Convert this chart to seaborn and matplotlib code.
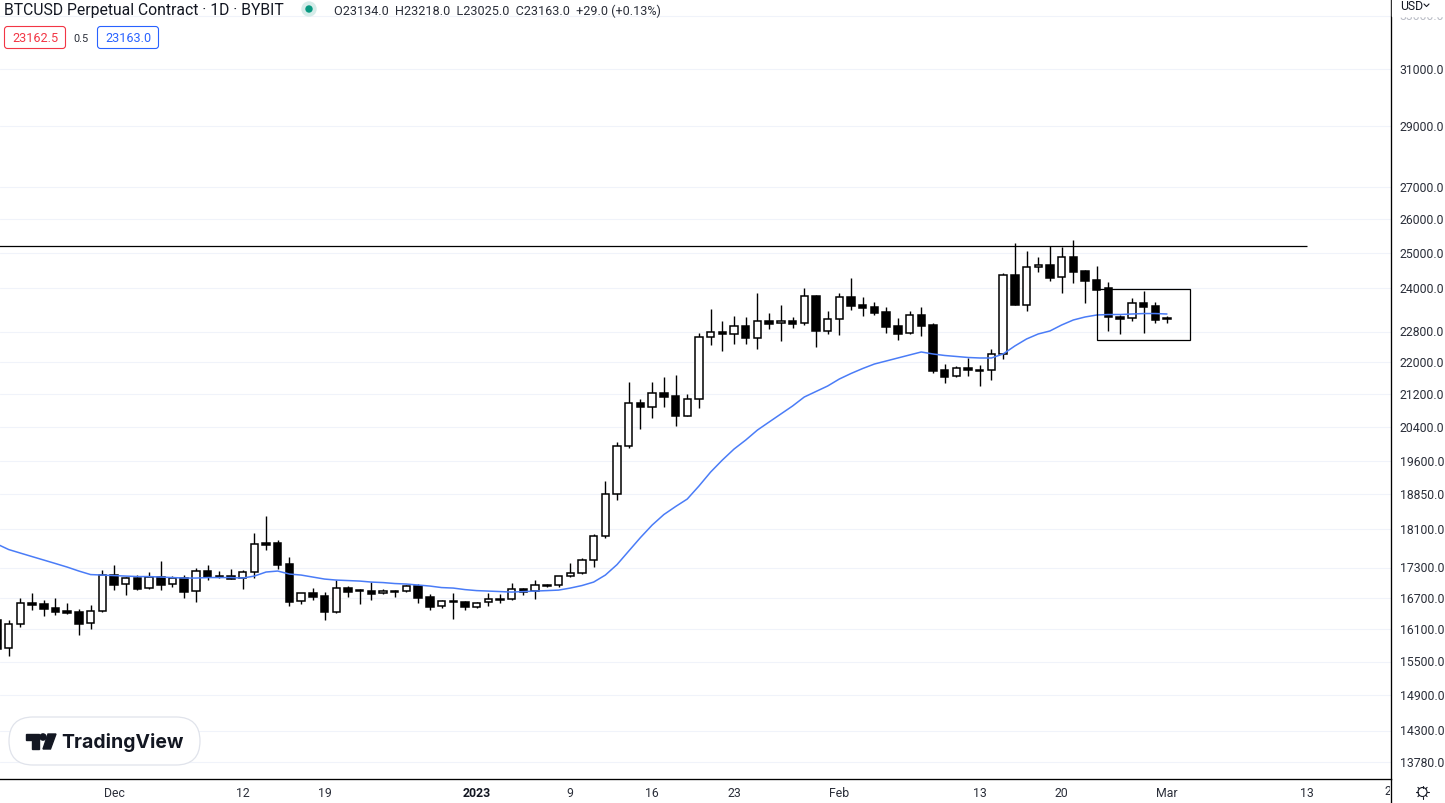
import matplotlib
matplotlib.use("Agg")
import matplotlib.dates as mdates
import matplotlib.pyplot as plt
import numpy as np
import pandas as pd
import seaborn as sns
from matplotlib.patches import Circle, FancyBboxPatch, Polygon, Rectangle
from matplotlib.transforms import Bbox, ScaledTranslation

# daily candles, 21 Nov 2022 to 1 Mar 2023
dates = pd.date_range("2022-11-21", "2023-03-01", freq="D")

opens = [
    16272, 15747, 16196, 16599, 16580, 16502, 16445, 16425, 16215, 16445,
    17152, 16973, 17092, 16893, 17112, 16973, 17092, 16834, 17233, 17132,
    17132, 17092, 17213, 17807, 17807, 17374, 16638, 16795, 16736, 16425,
    16893, 16853, 16834, 16795, 16834, 16834, 16933, 16716, 16541, 16638,
    16618, 16521, 16618, 16667, 16677, 16873, 16834, 16933, 16953, 17132,
    17193, 17456, 17952, 18858, 19946, 20976, 20878, 21223, 21148, 20659,
    21074, 22660, 22793, 22740, 22953, 22634, 23088, 23034, 23088, 23034,
    23773, 22820, 23142, 23745, 23524, 23469, 23331, 22953, 22767, 23250,
    22980, 21801, 21649, 21853, 21801, 21801, 22214, 24364, 23524, 24593,
    24650, 24307, 24883, 24479, 24223, 23997, 23196, 23169, 23579, 23496,
    23134,
]
highs = [
    16310, 16272, 16696, 16795, 16657, 16696, 16599, 16483, 16560, 17253,
    17354, 17112, 17152, 17213, 17435, 17132, 17152, 17293, 17354, 17233,
    17273, 17253, 18015, 18377, 17869, 17517, 16795, 16893, 16814, 17052,
    16933, 16873, 17012, 16873, 16853, 16953, 16973, 16775, 16657, 16795,
    16638, 16618, 16795, 16775, 16993, 16893, 17052, 16973, 17132, 17395,
    17497, 17994, 19146, 20040, 21497, 21074, 21497, 21624, 21674, 21198,
    22767, 23414, 23088, 23223, 23196, 23858, 23304, 23524, 23196, 23997,
    23801, 23359, 23858, 24279, 23745, 23607, 23469, 23169, 23359, 23469,
    23034, 21955, 21904, 22110, 21930, 22344, 24421, 25293, 25058, 24883,
    25205, 25176, 25383, 24507, 24622, 24166, 23250, 23718, 23913, 23607,
    23218,
]
lows = [
    15692, 15601, 16139, 16464, 16348, 16367, 16387, 15989, 16101, 16425,
    16853, 16755, 16853, 16873, 16853, 16913, 16696, 16618, 17052, 17092,
    17072, 16873, 17092, 17661, 17273, 16541, 16580, 16657, 16272, 16406,
    16716, 16580, 16657, 16775, 16716, 16814, 16599, 16464, 16502, 16291,
    16464, 16502, 16541, 16599, 16657, 16755, 16677, 16913, 16913, 17112,
    17172, 17313, 17910, 18725, 19899, 20347, 20611, 20878, 20418, 20659,
    20853, 22449, 22292, 22475, 22475, 22344, 22873, 22554, 22900, 22980,
    22396, 22740, 22713, 23387, 23223, 23250, 22767, 22581, 22740, 22687,
    21725, 21472, 21624, 21649, 21397, 21548, 22084, 23524, 23359, 24450,
    24194, 23858, 24139, 23579, 23941, 22820, 22740, 23088, 22767, 23034,
    23025,
]
closes = [
    15729, 16196, 16599, 16560, 16483, 16425, 16406, 16196, 16445, 17152,
    16953, 17092, 16873, 17112, 16953, 17092, 16814, 17233, 17112, 17112,
    17072, 17213, 17786, 17765, 17354, 16618, 16795, 16716, 16425, 16893,
    16814, 16834, 16775, 16834, 16825, 16933, 16696, 16521, 16638, 16618,
    16521, 16599, 16677, 16677, 16873, 16814, 16953, 16953, 17132, 17193,
    17456, 17952, 18858, 19946, 20976, 20878, 21223, 21123, 20659, 21074,
    22660, 22793, 22740, 22953, 22634, 23088, 23007, 23088, 23007, 23773,
    22820, 23142, 23745, 23496, 23441, 23304, 22926, 22740, 23250, 22953,
    21776, 21624, 21853, 21801, 21776, 22214, 24364, 23524, 24593, 24650,
    24279, 24883, 24450, 24194, 23941, 23196, 23142, 23579, 23469, 23115,
    23163,
]
ema = [
    17786, 17672, 17599, 17527, 17456, 17385, 17313, 17233, 17162, 17152,
    17142, 17132, 17122, 17122, 17112, 17102, 17092, 17092, 17102, 17102,
    17102, 17092, 17132, 17213, 17233, 17172, 17152, 17112, 17072, 17052,
    17042, 17032, 17012, 17002, 16983, 16973, 16953, 16933, 16903, 16893,
    16863, 16843, 16834, 16824, 16814, 16824, 16834, 16843, 16853, 16893,
    16943, 17012, 17152, 17364, 17641, 17921, 18185, 18410, 18583, 18747,
    19035, 19349, 19622, 19876, 20087, 20323, 20515, 20708, 20902, 21123,
    21260, 21397, 21573, 21713, 21840, 21955, 22032, 22110, 22188, 22266,
    22214, 22175, 22149, 22123, 22110, 22110, 22214, 22423, 22607, 22740,
    22820, 22980, 23115, 23196, 23250, 23263, 23263, 23277, 23290, 23290,
    23277,
]

price_ticks = [33000, 31000, 29000, 27000, 26000, 25000, 24000, 22800, 22000, 21200,
               20400, 19600, 18850, 18100, 17300, 16700, 16100, 15500, 14900, 14300, 13780]
date_ticks = ["2022-12-01", "2022-12-12", "2022-12-19", "2023-01-01", "2023-01-09",
              "2023-01-16", "2023-01-23", "2023-02-01", "2023-02-13", "2023-02-20",
              "2023-03-01", "2023-03-13"]
date_labels = ["Dec", "12", "19", "2023", "9", "16", "23", "Feb", "13", "20", "Mar", "13"]

resistance = 25205
box_low, box_high = 22580, 23970

FONT = "Roboto"
INK = "#131722"

sns.set_theme(style="white")
plt.rcParams["font.family"] = [FONT, "DejaVu Sans"]

fig = plt.figure(figsize=(14.45, 8.04), dpi=100)
ax = fig.add_axes([0, 24 / 804, 1391 / 1445, 780 / 804])

df = pd.DataFrame(
    {"date": dates, "open": opens, "high": highs, "low": lows, "close": closes, "ema": ema}
)
df["x"] = mdates.date2num(df["date"])
up = df["close"] >= df["open"]

ax.set_yscale("log")
ax.vlines(df["x"], df["low"], df["high"], color="black", lw=1.0, zorder=3)
body_low = df[["open", "close"]].min(axis=1)
body_high = df[["open", "close"]].max(axis=1)
ax.bar(df["x"], body_high - body_low, bottom=body_low, width=0.64,
       color=np.where(up, "white", "black"), edgecolor="black", linewidth=1.1, zorder=4)
sns.lineplot(data=df, x="x", y="ema", color="#4a7cf7", lw=1.1, ax=ax, zorder=5)

day0 = mdates.date2num(pd.Timestamp("2022-12-01"))
ax.hlines(resistance, day0 - 10, mdates.date2num(pd.Timestamp("2023-03-13")),
          color="black", lw=0.9, zorder=6)
box_x = mdates.date2num(pd.Timestamp("2023-02-23"))
ax.add_patch(Rectangle((box_x, box_low), 8, box_high - box_low, fill=False,
                       edgecolor="black", lw=0.9, zorder=6))

ax.set_xlim(day0 - 9.74, day0 + 109.15)
ax.set_ylim(13512, 33647)
ax.set_xlabel("")
ax.set_ylabel("")

ax.yaxis.tick_right()
ax.yaxis.set_minor_locator(matplotlib.ticker.NullLocator())
ax.set_yticks(price_ticks)
ax.set_yticklabels([f"{p}.0" for p in price_ticks], va="center_baseline")
ax.yaxis.set_minor_formatter(matplotlib.ticker.NullFormatter())
ax.tick_params(axis="y", length=0, pad=6.2, labelsize=8.8, labelcolor="#2a2e39")
ax.yaxis.get_ticklabels()[0].set_color("#b8bbc4")
# price labels sit a little above their grid lines
nudge = ScaledTranslation(0, 1.3 / 100, fig.dpi_scale_trans)
for label in ax.yaxis.get_ticklabels():
    label.set_transform(label.get_transform() + nudge)

ax.set_xticks(mdates.date2num(pd.to_datetime(date_ticks)))
ax.set_xticklabels(date_labels)
ax.tick_params(axis="x", length=0, pad=5, labelsize=8.8, labelcolor="#2a2e39")
ax.xaxis.get_ticklabels()[3].set_fontweight("bold")
ax.xaxis.get_ticklabels()[3].set_color(INK)

ax.grid(axis="y", color="#f0f3fa", lw=0.75, zorder=0)
ax.grid(axis="x", visible=False)
for side in ["top", "left"]:
    ax.spines[side].set_visible(False)
for side in ["right", "bottom"]:
    ax.spines[side].set_color("black")
    ax.spines[side].set_linewidth(0.95)

# everything around the plot, in screen pixels
ui = fig.add_axes([0, 0, 1, 1], facecolor="none")
ui.set_xlim(0, 1445)
ui.set_ylim(804, 0)
ui.axis("off")

ui.add_patch(Rectangle((1392, 0), 53, 16.5, color="white", zorder=2))
ui.plot([1390.5, 1390.5], [780, 804], color="black", lw=0.95)
ui.text(1400, 6, "USD", fontsize=8.8, color=INK, va="center", zorder=3)
ui.plot([1424, 1426.5, 1429], [5, 7.5, 5], color=INK, lw=0.8, zorder=3)

# date labels cut off by the plot edges
clip = Bbox([[0, 0], [1390, 804]])
for px, label in [(-4.5, "21"), (1391, "20")]:
    t = ui.text(px, 792, label, fontsize=8.8, color="#2a2e39", ha="center", va="center")
    t.set_clip_box(clip)
    t.set_clip_on(True)

# header
ui.text(4, 10, "BTCUSD Perpetual Contract · 1D · BYBIT", fontsize=11.35, color=INK, va="center")
ui.add_patch(Circle((309, 10), 7, color="#d5ece9"))
ui.add_patch(Circle((309, 10), 3, color="#089981"))
ui.text(334, 11, "O23134.0  H23218.0  L23025.0  C23163.0  +29.0 (+0.13%)", fontsize=9.1,
        color="#2a2e39", va="center")
for x0, col, txt in [(4, "#f23645", "23162.5"), (97, "#2962ff", "23163.0")]:
    ui.add_patch(FancyBboxPatch((x0 + 0.5, 27.5), 61, 22, boxstyle="round,pad=0,rounding_size=3",
                                fc="white", ec=col, lw=0.8))
    ui.text(x0 + 31, 38.5, txt, fontsize=9.1, color=col, ha="center", va="center")
ui.text(81, 38.5, "0.5", fontsize=7.8, color="#2a2e39", ha="center", va="center")

# TradingView badge
ui.add_patch(FancyBboxPatch((9, 718), 191, 48, boxstyle="round,pad=0,rounding_size=24",
                            fc="white", ec="#e0e3eb", lw=0.9))
ui.add_patch(Polygon([(26, 735), (39, 735), (39, 750), (32, 750), (32, 741), (26, 741)],
                     color=INK))
ui.add_patch(Circle((43, 738), 3.1, color=INK))
ui.add_patch(Polygon([(48, 735), (56, 735), (50.5, 750), (43, 750)], color=INK))
ui.text(61, 743, "TradingView", fontsize=14, fontweight="bold", color=INK, va="center",
        family="Inter")

# settings icon
ui.add_patch(Circle((1422.5, 793), 4.5, fc="none", ec=INK, lw=0.8))
for a in np.deg2rad([0, 90, 180, 270, 45, 135, 225, 315]):
    ui.plot([1422.5 + 4.5 * np.cos(a), 1422.5 + 6.5 * np.cos(a)],
            [793 + 4.5 * np.sin(a), 793 + 6.5 * np.sin(a)], color=INK, lw=0.8)

fig.savefig("out.png", dpi=100)
